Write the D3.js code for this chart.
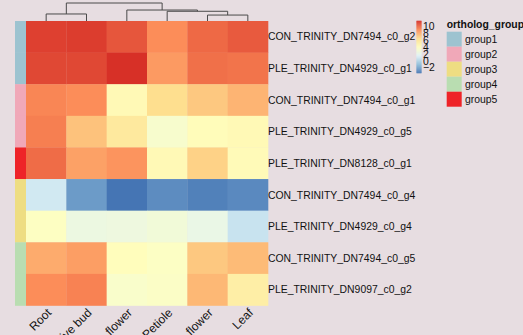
<!DOCTYPE html>
<html><head><meta charset="utf-8">
<script src="https://cdn.jsdelivr.net/npm/d3@7"></script>
<style>
html,body{margin:0;padding:0;background:#e7dde1;}
svg{display:block;font-family:"Liberation Sans",Arial,Helvetica,sans-serif;}
</style></head><body>
<svg id="c" width="523" height="335"></svg>
<script>
const columns = ["Root","Vegetative bud","Male flower","Petiole","Female flower","Leaf"];
const rows = ["CON_TRINITY_DN7494_c0_g2","PLE_TRINITY_DN4929_c0_g1","CON_TRINITY_DN7494_c0_g1","PLE_TRINITY_DN4929_c0_g5","PLE_TRINITY_DN8128_c0_g1","CON_TRINITY_DN7494_c0_g4","PLE_TRINITY_DN4929_c0_g4","CON_TRINITY_DN7494_c0_g5","PLE_TRINITY_DN9097_c0_g2"];
const rowGroups = ["group1","group1","group2","group2","group5","group3","group3","group4","group4"];
const values = [
  [11.3, 11.4, 10.7, 9.2, 10.2, 10.6],
  [11.1, 11.1, 11.75, 8.8, 10.0, 9.9],
  [9.4, 9.2, 4.6, 6.7, 7.4, 8.0],
  [9.6, 7.6, 5.9, 3.5, 4.4, 4.6],
  [10.1, 8.6, 9.0, 4.6, 7.1, 4.5],
  [1.1, -2.2, -3.5, -2.7, -3.1, -2.8],
  [4.0, 2.6, 2.7, 3.0, 2.4, 0.8],
  [8.3, 8.7, 4.3, 3.9, 7.4, 7.8],
  [9.2, 9.5, 3.6, 3.8, 7.9, 5.5]
];
const groupNames = ["group1","group2","group3","group4","group5"];
const groupColors = ["#9dc3d0","#f0a8b8","#eedd82","#b9ddb1","#ee2328"];
const palette = ["#4575b4","#91bfdb","#e0f3f8","#ffffbf","#fee090","#fc8d59","#d73027"];
const colorTicks = [-2,0,2,4,6,8,10];
// hclust-style merges: negative = leaf index (1-based), positive = merge step; third = height
const colMerges = [[-1,-2,3.9],[-5,-6,3.3],[-4,2,5.4],[-3,3,6.1],[1,4,10]];

const FS = 10.4;
const svg = d3.select("#c");
const hx0=26, hx1=268, hy0=21, hy1=305.5;
const x = d3.scaleBand().domain(d3.range(columns.length)).range([hx0,hx1]);
const y = d3.scaleBand().domain(d3.range(rows.length)).range([hy0,hy1]);
const vmin = -3.5, vmax = 11.75;
const color = d3.scaleLinear()
  .domain(palette.map((_,i)=>vmin+(vmax-vmin)*i/(palette.length-1)))
  .range(palette).interpolate(d3.interpolateRgb).clamp(true);
const gcol = d3.scaleOrdinal().domain(groupNames).range(groupColors);

// cells
const cells = [];
values.forEach((r,i)=>r.forEach((v,j)=>cells.push({i,j,v})));
svg.append("g").selectAll("rect").data(cells).join("rect")
  .attr("x",d=>x(d.j)).attr("y",d=>y(d.i))
  .attr("width",x.bandwidth()+0.3).attr("height",y.bandwidth()+0.3)
  .attr("fill",d=>color(d.v));

// annotation bar
svg.append("g").selectAll("rect").data(rowGroups).join("rect")
  .attr("x",15).attr("width",hx0-15)
  .attr("y",(d,i)=>y(i)).attr("height",y.bandwidth()+0.3)
  .attr("fill",d=>gcol(d));

// row labels
svg.append("g").selectAll("text").data(rows).join("text")
  .attr("x",hx1).attr("y",(d,i)=>y(i)+y.bandwidth()/2)
  .attr("dy","0.35em").attr("font-size",FS).attr("fill","#111")
  .text(d=>d);

// column labels
svg.append("g").selectAll("text").data(columns).join("text")
  .attr("font-size",12).attr("fill","#111").attr("text-anchor","end")
  .attr("dy","0.35em")
  .attr("transform",(d,i)=>`translate(${x(i)+x.bandwidth()/2+3},${hy1+5}) rotate(-45)`)
  .text(d=>d);

// dendrogram
const hy = d3.scaleLinear().domain([0,10]).range([hy0,3]);
const nodes = [];
function pos(id){
  if(id<0) return {x:x(-id-1)+x.bandwidth()/2, h:0};
  return nodes[id-1];
}
const dg = svg.append("g").attr("stroke","#4a4a4a").attr("stroke-width",1).attr("fill","none");
colMerges.forEach(([a,b,h])=>{
  const A=pos(a), B=pos(b);
  const n={x:(A.x+B.x)/2,h};
  nodes.push(n);
  dg.append("path").attr("d",
    `M${A.x},${hy(A.h)}V${hy(h)}H${B.x}V${hy(B.h)}`);
});

// color bar
const cbx=416.5, cbw=5, cy = d3.scaleLinear().domain([vmin,vmax]).range([73,20.7]);
const steps = d3.range(0,100);
svg.append("g").selectAll("rect").data(steps).join("rect")
  .attr("x",cbx).attr("width",cbw)
  .attr("y",s=>cy(vmin+(vmax-vmin)*(s+1)/100))
  .attr("height",s=>cy(vmin+(vmax-vmin)*s/100)-cy(vmin+(vmax-vmin)*(s+1)/100)+0.3)
  .attr("fill",s=>color(vmin+(vmax-vmin)*(s+0.5)/100));
svg.append("g").selectAll("text").data(colorTicks).join("text")
  .attr("x",cbx+cbw+1.5).attr("y",d=>cy(d)).attr("dy","0.35em")
  .attr("font-size",FS).attr("fill","#111")
  .text(d=>d<0?"\u2212"+Math.abs(d):d);

// group legend
svg.append("text").attr("x",446.7).attr("y",28).attr("font-size",FS)
  .attr("font-weight","bold").attr("fill","#111").text("ortholog_group");
const lg = svg.append("g");
lg.selectAll("rect").data(groupNames).join("rect")
  .attr("x",446.7).attr("width",15).attr("y",(d,i)=>31.7+i*15).attr("height",15)
  .attr("fill",d=>gcol(d));
lg.selectAll("text").data(groupNames).join("text")
  .attr("x",465).attr("y",(d,i)=>31.7+i*15+7.5).attr("dy","0.35em")
  .attr("font-size",FS).attr("fill","#111").text(d=>d);
</script>
</body></html>
